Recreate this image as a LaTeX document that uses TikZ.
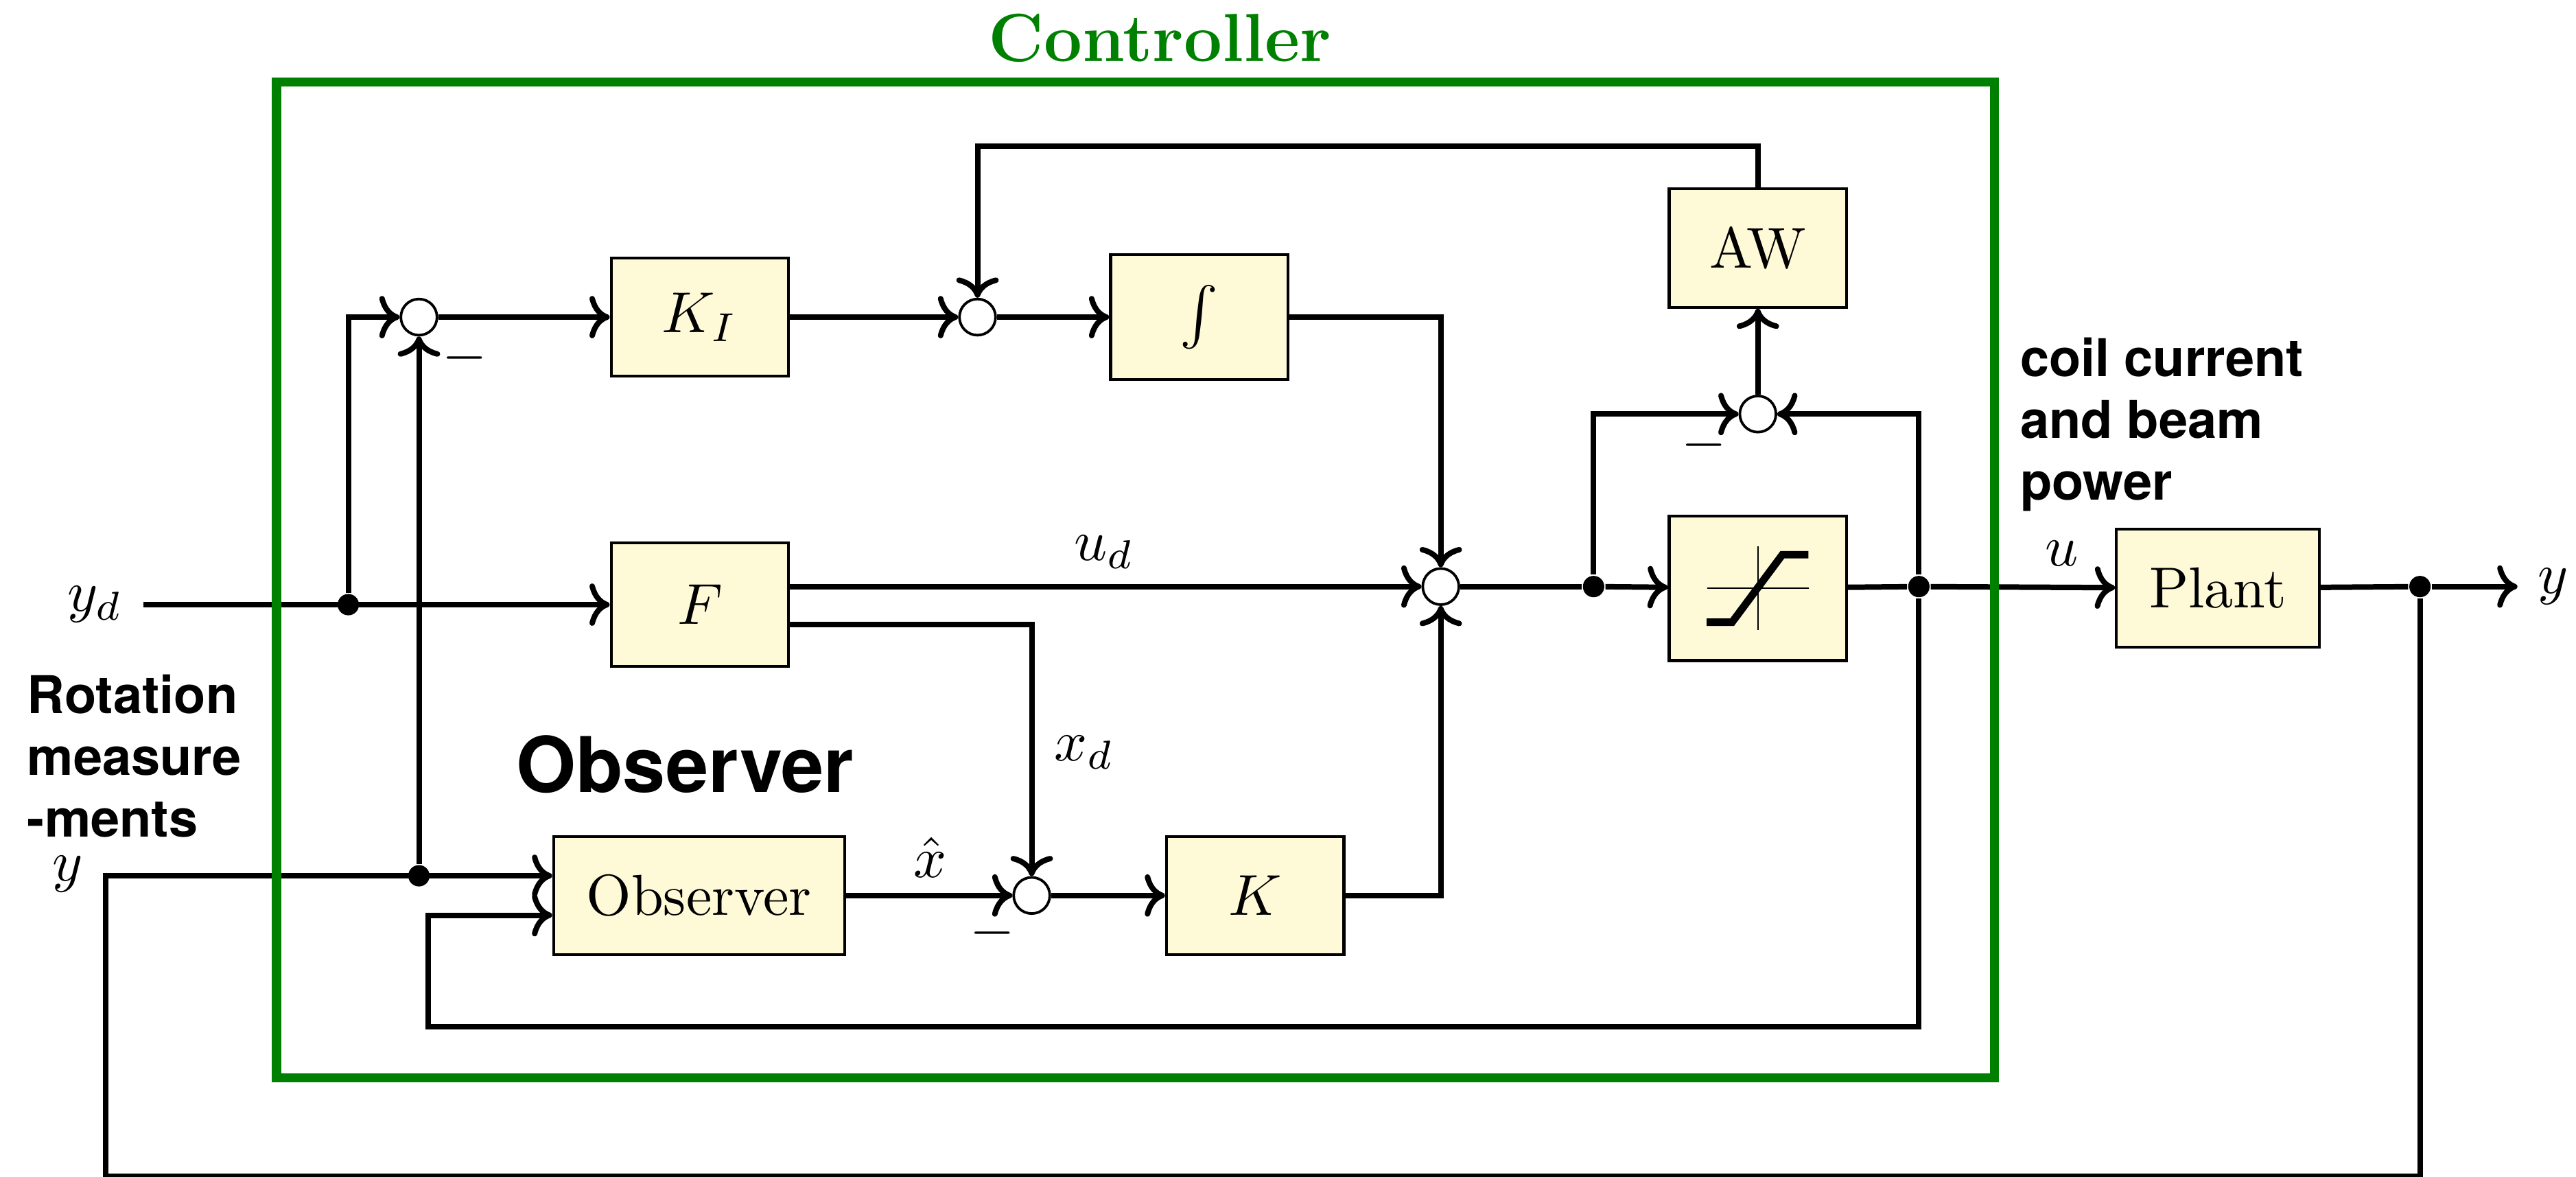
\documentclass[tikz,border=0pt]{standalone}
\usepackage{fontspec}
\newfontfamily\headfont{TeX Gyre Heros}
\usetikzlibrary{arrows.meta}
\definecolor{blkfill}{HTML}{FEF9D7}
\definecolor{ctrlgreen}{HTML}{008000}
\tikzset{
  blk/.style={draw, line width=0.5pt, fill=blkfill, minimum width=1.08cm,
              minimum height=0.72cm, inner xsep=0.2cm},
  sumnode/.style={draw, circle, fill=white, line width=0.45pt,
                  minimum size=0.22cm, inner sep=0pt},
  jdot/.style={circle, fill, inner sep=0pt, minimum size=0.13cm},
  wire/.style={line width=0.95pt},
  sig/.style={-{To[scale=0.95]}, line width=0.95pt},
  headlbl/.style={font=\headfont\bfseries\fontsize{9}{10.7}\selectfont,
                  align=left, inner sep=0pt, anchor=north west}}

\begin{document}
\begin{tikzpicture}
  \useasboundingbox (0,0) rectangle (15.68,7.16);

  % integral path
  \node[sumnode] (S1) at (2.55,5.23) {};
  \node[blk] (KI) at (4.26,5.23) {$K_I$};
  \node[sumnode] (S2) at (5.95,5.23) {};
  \node[blk, minimum height=0.76cm] (Int) at (7.30,5.23) {$\int$};

  % feedforward and state feedback
  \node (yd) at (0.58,3.48) {$y_d$};
  \node[jdot] (j1) at (2.12,3.48) {};
  \node[blk, minimum height=0.75cm] (F) at (4.26,3.48) {$F$};
  \node[sumnode] (S3) at (8.77,3.59) {};
  \node[jdot] (j2) at (9.70,3.59) {};
  \node[blk, minimum height=0.88cm] (Sat) at (10.70,3.58) {};
  \node[sumnode] (S4) at (10.70,4.64) {};
  \node[blk] (AW) at (10.70,5.65) {AW};
  \node[jdot] (j3) at (11.68,3.59) {};
  \node[blk] (Plant) at (13.50,3.58) {Plant};
  \node[jdot] (j4) at (14.73,3.59) {};
  \node (yout) at (15.54,3.59) {$y$};

  % observer row
  \node[blk] (Obs) at (4.255,1.71) {Observer};
  \node[sumnode] (S5) at (6.28,1.71) {};
  \node[blk] (K) at (7.64,1.71) {$K$};
  \node[jdot] (j5) at (2.55,1.83) {};
  \node (ymeas) at (0.41,1.84) {$y$};
  \coordinate (awtop) at (10.70,6.27);
  \coordinate (mbot) at (0.643,0.0);
  \coordinate (fbot) at (2.605,0.91);

  % saturation curve
  \begin{scope}[shift={(Sat.center)}]
    \draw[line width=0.3pt] (-0.31,0) -- (0.31,0) (0,-0.255) -- (0,0.255);
    \draw[line width=1.3pt] (-0.312,-0.207) -- (-0.157,-0.207)
      -- (0.149,0.204) -- (0.307,0.204);
  \end{scope}

  % connectors
  \draw[sig] (yd) -- (F);
  \draw[sig] (j1) |- (S1);
  \draw[sig] (S1) -- (KI);
  \draw[sig] (KI) -- (S2);
  \draw[sig] (S2) -- (Int);
  \draw[sig] (Int) -| (S3);
  \draw[sig] (F.east |- S3) -- (S3);
  \draw[sig] ([yshift=-1.2mm]F.east) -| (S5);
  \draw[wire] (S3) -- (j2);
  \draw[sig] (j2) -- (Sat);
  \draw[sig] (j2) |- (S4);
  \draw[sig] (j3) |- (S4);
  \draw[sig] (S4) -- (AW);
  \draw[sig] (AW) -- (AW |- awtop) -| (S2);
  \draw[wire] (Sat) -- (j3);
  \draw[sig] (j3) -- (Plant);
  \draw[wire] (Plant) -- (j4);
  \draw[sig] (j4) -- (yout);
  \draw[sig] (j4) |- (mbot) |- ([yshift=1.2mm]Obs.west);
  \draw[sig] (j5) -- (S1);
  \draw[sig] (j3) |- (fbot) |- ([yshift=-1.2mm]Obs.west);
  \draw[sig] (Obs) -- (S5);
  \draw[sig] (S5) -- (K);
  \draw[sig] (K) -| (S3);

  % signal names and signs
  \node at (6.72,3.80) {$u_d$};
  \node at (6.60,2.58) {$x_d$};
  \node at (5.66,1.94) {$\hat{x}$};
  \node at (12.55,3.79) {$u$};
  \node at (2.83,4.98) {$-$};
  \node at (10.37,4.45) {$-$};
  \node at (6.04,1.48) {$-$};

  % controller frame
  \draw[ctrlgreen, line width=1.6pt] (1.684,0.60) rectangle (12.14,6.66);
  \node[text=ctrlgreen, font=\bfseries\fontsize{11.8}{14}\selectfont]
    at (7.06,6.93) {Controller};
  \node[font=\headfont\bfseries\fontsize{13.3}{15}\selectfont]
    at (4.17,2.51) {Observer};
  \node[headlbl] at (0.16,3.06) {Rotation\\measure\\-ments};
  \node[headlbl] at (12.29,5.11) {coil current\\and beam\\power};
\end{tikzpicture}
\end{document}
